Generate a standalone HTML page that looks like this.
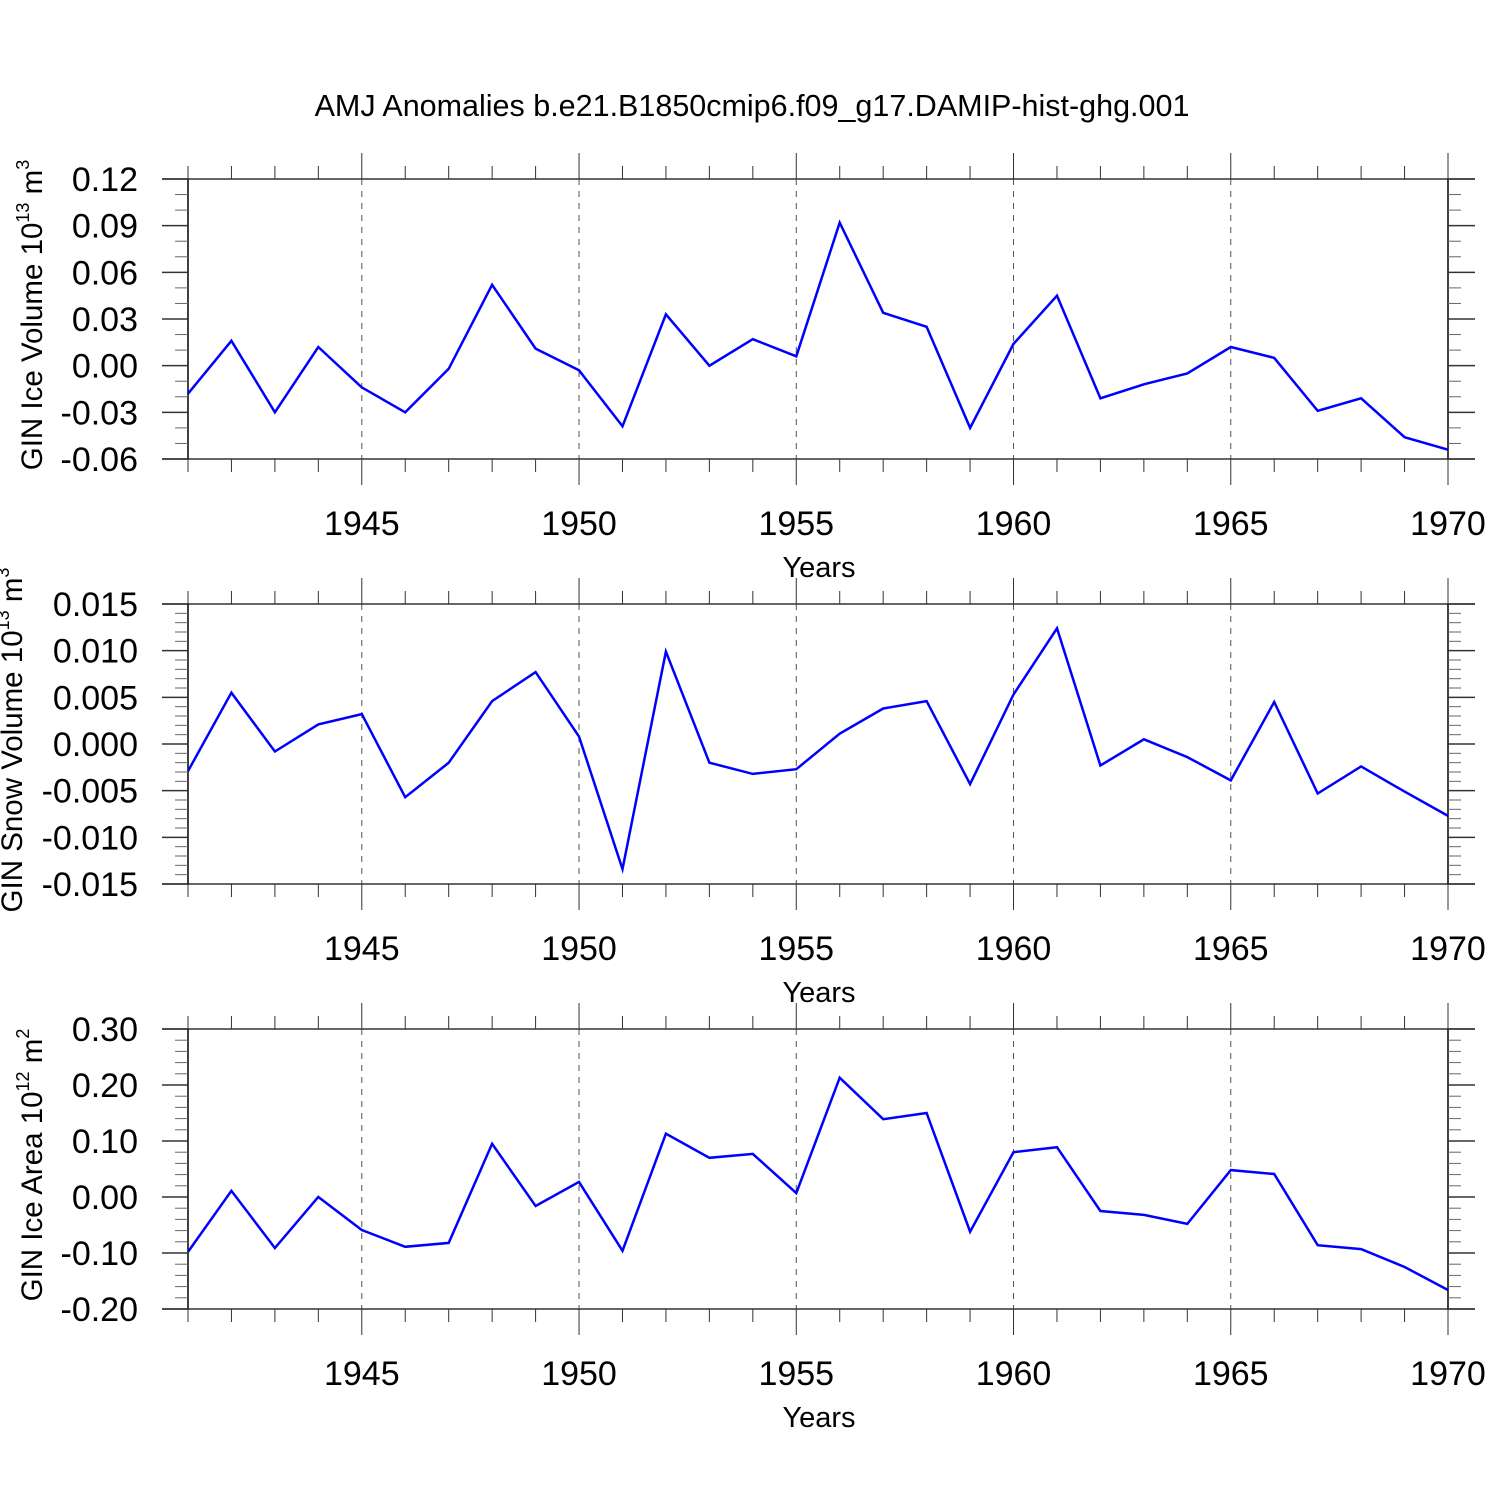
<!DOCTYPE html>
<html><head><meta charset="utf-8"><style>
body{margin:0;background:#fff}
svg{display:block;font-family:"Liberation Sans",sans-serif}
</style></head><body>
<svg id="chart" width="1500" height="1500" xmlns="http://www.w3.org/2000/svg">
<rect width="1500" height="1500" fill="#fff"/>
<text x="752" y="116" font-size="30.5" text-anchor="middle">AMJ Anomalies b.e21.B1850cmip6.f09_g17.DAMIP-hist-ghg.001</text>
</svg>
<script>
const years = [1941,1942,1943,1944,1945,1946,1947,1948,1949,1950,1951,1952,1953,1954,1955,1956,1957,1958,1959,1960,1961,1962,1963,1964,1965,1966,1967,1968,1969,1970];
const iceVolume = [-0.018,0.016,-0.030,0.012,-0.014,-0.030,-0.002,0.052,0.011,-0.003,-0.039,0.033,0.000,0.017,0.006,0.092,0.034,0.025,-0.040,0.014,0.045,-0.021,-0.012,-0.005,0.012,0.005,-0.029,-0.021,-0.046,-0.054];
const snowVolume = [-0.0029,0.0055,-0.0008,0.0021,0.0032,-0.0057,-0.0020,0.0046,0.0077,0.0008,-0.0134,0.0099,-0.0020,-0.0032,-0.0027,0.0011,0.0038,0.0046,-0.0043,0.0053,0.0124,-0.0023,0.0005,-0.0014,-0.0039,0.0045,-0.0053,-0.0024,-0.0051,-0.0077];
const iceArea = [-0.098,0.011,-0.091,0.000,-0.059,-0.089,-0.082,0.095,-0.016,0.027,-0.096,0.113,0.070,0.077,0.007,0.213,0.139,0.150,-0.062,0.080,0.089,-0.025,-0.032,-0.048,0.048,0.041,-0.086,-0.093,-0.125,-0.166];
const xTicks = [1945,1950,1955,1960,1965,1970];
const iceVolTicks = [0.12,0.09,0.06,0.03,0.00,-0.03,-0.06];
const snowTicks = [0.015,0.010,0.005,0.000,-0.005,-0.010,-0.015];
const areaTicks = [0.30,0.20,0.10,0.00,-0.10,-0.20];

const svg = document.getElementById('chart');
const NS = 'http://www.w3.org/2000/svg';
function mk(tag, attrs, parent){const e=document.createElementNS(NS,tag);for(const k in attrs)e.setAttribute(k,attrs[k]);(parent||svg).appendChild(e);return e;}
const X0=188, X1=1448, YR0=1941, YR1=1970;
const xs = y => X0 + (y-YR0)/(YR1-YR0)*(X1-X0);

function panel(name, top, vals, ticks, digits, minorPer, labelParts){
  const bot = top+280;
  const vmax = ticks[0], vmin = ticks[ticks.length-1];
  const ys = v => top + (vmax-v)/(vmax-vmin)*(bot-top);
  const g = mk('g',{});
  
  
  const col='#333';
  xTicks.forEach(t=>{ if(t<YR1){ const l=mk('line',{x1:xs(t),x2:xs(t),y1:top,y2:bot,stroke:'#555','stroke-width':1,'stroke-dasharray':'6,6'},g);
    
     }});
  mk('line',{x1:162,x2:1475,y1:top,y2:top,stroke:col,'stroke-width':1.5},g);
  mk('line',{x1:162,x2:1475,y1:bot,y2:bot,stroke:col,'stroke-width':1.5},g);
  mk('line',{x1:X0,x2:X0,y1:top,y2:bot,stroke:'#000','stroke-width':1.5},g);
  mk('line',{x1:X1,x2:X1,y1:top,y2:bot,stroke:'#000','stroke-width':1.5},g);
  for(let y=YR0;y<=YR1;y++){
    const major = y%5===0; const len = major?26:13; const x=xs(y);
    mk('line',{x1:x,x2:x,y1:top-len,y2:top,stroke:col,'stroke-width':1},g);
    mk('line',{x1:x,x2:x,y1:bot,y2:bot+len,stroke:col,'stroke-width':1},g);
  }
  xTicks.forEach(t=>{ const tx=mk('text',{x:xs(t),y:bot+76,'font-size':34,'text-anchor':'middle'},g); tx.textContent=t;
    
     });
  for(let i=0;i<ticks.length;i++){
    const y=ys(ticks[i]);
    mk('line',{x1:162,x2:X0,y1:y,y2:y,stroke:col,'stroke-width':1.5},g);
    mk('line',{x1:X1,x2:1475,y1:y,y2:y,stroke:col,'stroke-width':1.5},g);
    const tx=mk('text',{x:138,y:y+12,'font-size':34,'text-anchor':'end'},g); tx.textContent=ticks[i].toFixed(digits);
    
    
    if(i<ticks.length-1){ const step=(ticks[i]-ticks[i+1])/minorPer;
      for(let k=1;k<minorPer;k++){ const yy=ys(ticks[i]-k*step);
        mk('line',{x1:175,x2:X0,y1:yy,y2:yy,stroke:'#666','stroke-width':1},g);
        mk('line',{x1:X1,x2:1461,y1:yy,y2:yy,stroke:'#666','stroke-width':1},g);}}
  }
  const pts = vals.map((v,i)=>xs(years[i]).toFixed(1)+','+ys(v).toFixed(1)).join(' ');
  const pl = mk('polyline',{points:pts,fill:'none',stroke:'#0000ff','stroke-width':2.5,'stroke-linejoin':'miter'},g);
  
  
  const xt=mk('text',{x:819,y:bot+118,'font-size':29,'text-anchor':'middle'},g); xt.textContent='Years';
  
  
  const yt=mk('text',{x:0,y:0,'font-size':29.5,'text-anchor':'middle',transform:`translate(${labelParts.x},${(top+bot)/2 - 4}) rotate(-90)`},g);
  
  
  yt.innerHTML = labelParts.html;
}
panel('ice-volume',179,iceVolume,iceVolTicks,2,3,{x:42,html:'GIN Ice Volume 10<tspan font-size="18" dy="-13">13</tspan><tspan dy="13"> m</tspan><tspan font-size="18" dy="-13">3</tspan>'});
panel('snow-volume',604,snowVolume,snowTicks,3,5,{x:22,html:'GIN Snow Volume 10<tspan font-size="18" dy="-13">13</tspan><tspan dy="13"> m</tspan><tspan font-size="18" dy="-13">3</tspan>'});
panel('ice-area',1029,iceArea,areaTicks,2,5,{x:42,html:'GIN Ice Area 10<tspan font-size="18" dy="-13">12</tspan><tspan dy="13"> m</tspan><tspan font-size="18" dy="-13">2</tspan>'});
</script>
</body></html>
